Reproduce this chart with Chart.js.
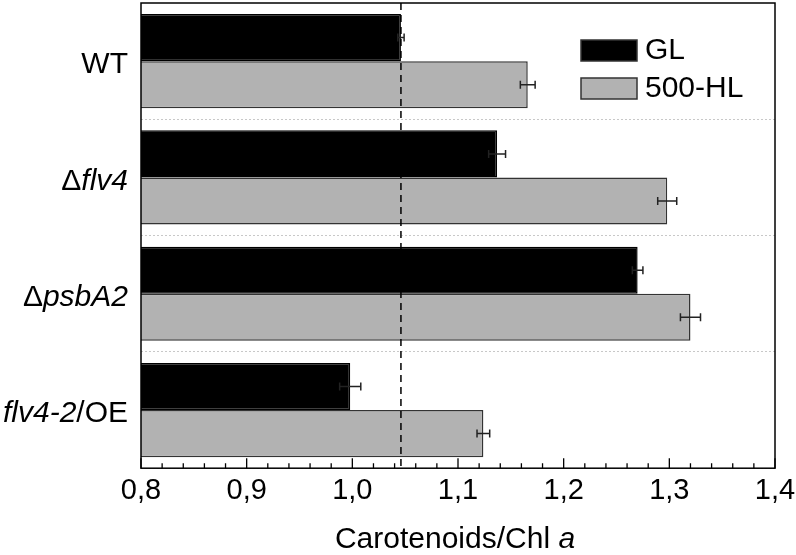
<!DOCTYPE html>
<html>
<head>
<meta charset="utf-8">
<script src="https://cdn.jsdelivr.net/npm/chart.js@4.4.1/dist/chart.umd.min.js"></script>
<style>
  html, body { margin: 0; padding: 0; background: #fff; }
</style>
</head>
<body>
<canvas id="chart" width="796" height="555"></canvas>
<script>
// strains, drawn with italic gene names
const categories = ['WT', 'Δflv4', 'ΔpsbA2', 'flv4-2/OE'];
const categoryParts = [
    [['WT', false]],
    [['Δ', false], ['flv4', true]],
    [['Δ', false], ['psbA2', true]],
    [['flv4-2', true], ['/OE', false]]
];
const seriesNames = ['GL', '500-HL'];
const glValues = [1.046, 1.137, 1.270, 0.998];
const glErrors = [0.003, 0.008, 0.005, 0.010];
const hlValues = [1.166, 1.298, 1.320, 1.124];
const hlErrors = [0.007, 0.009, 0.0095, 0.006];
const xTicks = [0.8, 0.9, 1.0, 1.1, 1.2, 1.3, 1.4];
const xMin = 0.8, xMax = 1.4, minorStep = 0.02;
const referenceLine = 1.046;   // WT under GL
const axisTitle = [['Carotenoids/Chl ', false], ['a', true]];

const FONT = '"Liberation Sans", Arial, sans-serif';
const errors = [glErrors, hlErrors];

function drawParts(ctx, parts, x, y, size, align) {
    let w = 0;
    parts.forEach(p => {
        ctx.font = (p[1] ? 'italic ' : '') + size + 'px ' + FONT;
        w += ctx.measureText(p[0]).width;
    });
    let cx = align === 'right' ? x - w : (align === 'center' ? x - w / 2 : x);
    ctx.textAlign = 'left';
    parts.forEach(p => {
        ctx.font = (p[1] ? 'italic ' : '') + size + 'px ' + FONT;
        ctx.fillText(p[0], cx, y);
        cx += ctx.measureText(p[0]).width;
    });
}

const decor = {
    id: 'decor',
    afterDatasetsDraw(chart) {
        const ctx = chart.ctx;
        const xs = chart.scales.x;
        const a = chart.chartArea;
        ctx.save();
        // dashed reference line
        const rx = xs.getPixelForValue(referenceLine);
        ctx.strokeStyle = '#000';
        ctx.lineWidth = 1.5;
        ctx.setLineDash([7, 5]);
        ctx.beginPath();
        ctx.moveTo(rx, a.top);
        ctx.lineTo(rx, a.bottom);
        ctx.stroke();
        ctx.setLineDash([]);
        // error bars
        ctx.strokeStyle = '#222';
        ctx.lineWidth = 1.5;
        chart.data.datasets.forEach((ds, i) => {
            const meta = chart.getDatasetMeta(i);
            meta.data.forEach((bar, j) => {
                const v = ds.data[j], e = errors[i][j];
                const x1 = xs.getPixelForValue(v - e), x2 = xs.getPixelForValue(v + e);
                const y = bar.y;
                ctx.beginPath();
                ctx.moveTo(x1, y); ctx.lineTo(x2, y);
                ctx.moveTo(x1, y - 4); ctx.lineTo(x1, y + 4);
                ctx.moveTo(x2, y - 4); ctx.lineTo(x2, y + 4);
                ctx.stroke();
            });
        });
        ctx.restore();
    },
    afterDraw(chart) {
        const ctx = chart.ctx;
        const xs = chart.scales.x, ys = chart.scales.y;
        const a = chart.chartArea;
        ctx.save();
        // frame
        ctx.strokeStyle = '#000';
        ctx.lineWidth = 1.5;
        ctx.strokeRect(a.left, a.top, a.right - a.left, a.bottom - a.top);
        // inward ticks on the bottom axis
        const n = Math.round((xMax - xMin) / minorStep);
        ctx.lineWidth = 1.3;
        ctx.beginPath();
        for (let k = 0; k <= n; k++) {
            const px = xs.getPixelForValue(xMin + k * minorStep);
            const len = k % 5 === 0 ? 10 : 5;
            ctx.moveTo(px, a.bottom);
            ctx.lineTo(px, a.bottom - len);
        }
        ctx.stroke();
        // category labels
        ctx.fillStyle = '#000';
        ctx.textBaseline = 'middle';
        categoryParts.forEach((parts, i) => {
            drawParts(ctx, parts, 128, ys.getPixelForValue(i) + 4, 30, 'right');
        });
        // legend
        chart.data.datasets.forEach((ds, i) => {
            const by = 40 + i * 38;
            ctx.fillStyle = ds.backgroundColor;
            ctx.fillRect(581, by, 56, 21);
            ctx.strokeStyle = '#333';
            ctx.lineWidth = 1.5;
            ctx.strokeRect(581, by, 56, 21);
            ctx.fillStyle = '#000';
            ctx.font = '30px ' + FONT;
            ctx.textAlign = 'left';
            ctx.fillText(ds.label, 645, by + 11);
        });
        // axis title
        ctx.textBaseline = 'alphabetic';
        drawParts(ctx, axisTitle, (a.left + a.right) / 2 - 3, 548, 30, 'center');
        ctx.restore();
    }
};

new Chart(document.getElementById('chart'), {
    type: 'bar',
    data: {
        labels: categories,
        datasets: [
            { label: seriesNames[0], data: glValues, backgroundColor: '#000', borderColor: '#000', borderWidth: 1.5 },
            { label: seriesNames[1], data: hlValues, backgroundColor: '#b2b2b2', borderColor: '#333', borderWidth: 1.5 }
        ]
    },
    options: {
        indexAxis: 'y',
        responsive: false,
        animation: false,
        categoryPercentage: 0.81,
        barPercentage: 1.0,
        layout: { padding: { left: 141, right: 21, top: 3, bottom: 42 } },
        plugins: { legend: { display: false }, tooltip: { enabled: false } },
        scales: {
            x: {
                min: xMin,
                max: xMax,
                afterBuildTicks: s => { s.ticks = xTicks.map(v => ({ value: v })); },
                afterFit: s => { s.paddingLeft = 0; s.paddingRight = 0; },
                grid: { display: false, drawTicks: false },
                border: { display: false },
                ticks: {
                    padding: 5,
                    color: '#000',
                    maxRotation: 0,
                    autoSkip: false,
                    font: { family: FONT, size: 29 },
                    callback: v => Number(v).toFixed(1).replace('.', ',')
                }
            },
            y: {
                grid: {
                    drawTicks: false,
                    lineWidth: 1,
                    color: c => (c.index === 0 || c.index === categories.length) ? 'rgba(0,0,0,0)' : '#c8c8c8'
                },
                border: { display: false, dash: [2, 2] },
                ticks: { display: false }
            }
        }
    },
    plugins: [decor]
});
</script>
</body>
</html>
